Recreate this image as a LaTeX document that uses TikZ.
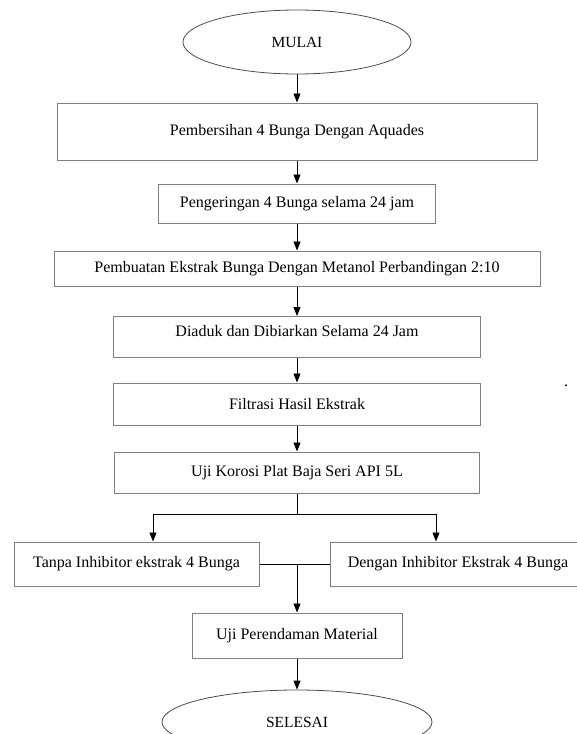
\documentclass[tikz,border=0pt]{standalone}
\usepackage{fontspec}
\setmainfont{Liberation Serif}
\usetikzlibrary{shapes.geometric, arrows.meta}

\tikzset{
  stepbox/.style={draw=black!50, line width=1pt, inner sep=0pt, font=\fontsize{16}{18}\selectfont},
  oval/.style={ellipse, draw=black!70, line width=0.8pt, inner sep=0pt, font=\fontsize{15.5}{18}\selectfont},
  flow/.style={-{Triangle[length=9pt, width=7pt]}, line width=0.8pt},
  link/.style={line width=0.8pt}
}

\begin{document}
\begin{tikzpicture}[x=1pt, y=-1pt]

\useasboundingbox ( 0, 0 ) rectangle ( 576, 734 );

% Start
\node (mulai) at ( 297, 42 ) [oval, minimum width=228pt, minimum height=64pt] {MULAI};

% Steps
\node (bersih) at ( 297, 131.5 ) [stepbox, minimum width=480pt, minimum height=57pt] {Pembersihan 4 Bunga Dengan Aquades};
\node (kering) at ( 297, 203.5 ) [stepbox, minimum width=277pt, minimum height=39pt] {Pengeringan 4 Bunga selama 24 jam};
\node (ekstrak) at ( 297, 268.5 ) [stepbox, minimum width=486pt, minimum height=35pt] {Pembuatan Ekstrak Bunga Dengan Metanol Perbandingan 2:10};
\node (aduk) at ( 297, 316 ) [stepbox, anchor=north, minimum width=367pt, text height=19.5pt, text depth=21.5pt] {Diaduk dan Dibiarkan Selama 24 Jam};
\node (filtrasi) at ( 297, 404 ) [stepbox, minimum width=367pt, minimum height=42pt] {Filtrasi Hasil Ekstrak};
\node (korosi) at ( 297, 472.5 ) [stepbox, minimum width=365pt, minimum height=41pt] {Uji Korosi Plat Baja Seri API 5L};

% Stray dot
\node (titik) at ( 566, 386 ) [font=\fontsize{16}{18}\selectfont] {.};

% Branches
\node (tanpa) at ( 136.5, 564 ) [stepbox, minimum width=245pt, minimum height=44pt] {Tanpa Inhibitor ekstrak 4 Bunga};
\node (dengan) at ( 458, 564 ) [stepbox, minimum width=256pt, minimum height=44pt] {Dengan Inhibitor Ekstrak 4 Bunga};

\node (rendam) at ( 297, 635.5 ) [stepbox, minimum width=210pt, minimum height=45pt] {Uji Perendaman Material};

% End
\node (selesai) at ( 297, 722 ) [oval, minimum width=270pt, minimum height=64pt] {SELESAI};

% Arrows
\draw [flow] (mulai) -- (bersih);
\draw [flow] (bersih) -- (kering);
\draw [flow] (kering) -- (ekstrak);
\draw [flow] (ekstrak) -- (aduk);
\draw [flow] (aduk) -- (filtrasi);
\draw [flow] (filtrasi) -- (korosi);

% Split
\coordinate (pisah) at ( 297, 514 );
\coordinate (kiri) at ( 153, 514 );
\coordinate (kanan) at ( 436, 514 );
\draw [link] (korosi) -- (pisah);
\draw [link] (kiri) -- (kanan);
\draw [flow] (kiri) -- (kiri |- tanpa.north);
\draw [flow] (kanan) -- (kanan |- dengan.north);

% Join
\coordinate (gabung) at ( 297, 564 );
\draw [link] (tanpa) -- (dengan);
\draw [flow] (gabung) -- (rendam);
\draw [flow] (rendam) -- (selesai);

\end{tikzpicture}
\end{document}
